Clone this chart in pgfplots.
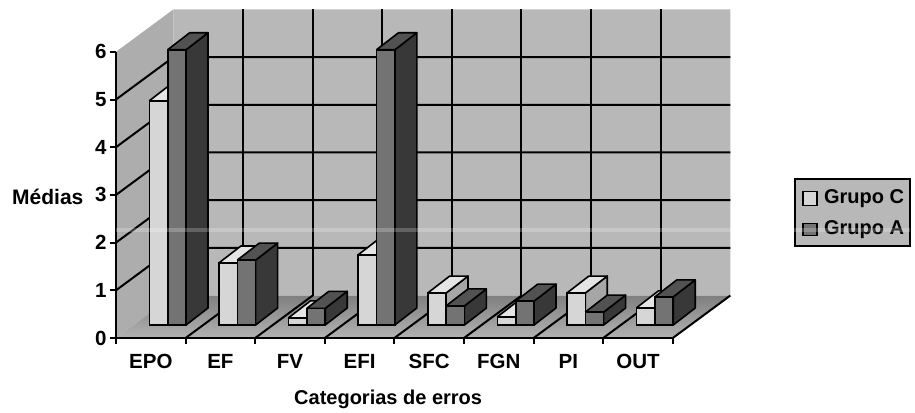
\documentclass[border=0pt]{standalone}
\usepackage{fontspec}
\setmainfont{Liberation Sans}
\usepackage{pgfplots}
\usepackage{pgfplotstable}
\pgfplotsset{compat=1.18}
\pgfplotstableread{
x C A
0.5 4.70 5.77
1.5 1.30 1.36
2.5 0.15 0.35
3.5 1.47 5.77
4.5 0.67 0.40
5.5 0.17 0.50
6.5 0.67 0.27
7.5 0.36 0.59
}\errdata
\definecolor{wallc}{gray}{0.72}
\definecolor{sidewall}{gray}{0.68}
\definecolor{floorfront}{gray}{0.70}
\definecolor{floorback}{gray}{0.50}
\definecolor{cfront}{gray}{0.84}
\definecolor{ctop}{gray}{0.90}
\definecolor{cside}{gray}{0.65}
\definecolor{afront}{gray}{0.45}
\definecolor{aside}{gray}{0.22}
\definecolor{atop}{gray}{0.32}
% depth faces of one bar: left edge, right edge, value, side colour, top colour
\newcommand{\barfaces}[5]{%
  \pgfmathsetmacro{\ya}{0.2725+#3}%
  \pgfmathsetmacro{\yb}{\ya+0.356}%
  \pgfmathsetmacro{\xr}{#2+0.316}%
  \pgfmathsetmacro{\xl}{#1+0.316}%
  \addplot[fill=#4,draw=black,line width=1.6pt,line join=round] coordinates {(#2,0.2725) (\xr,0.6285) (\xr,\yb) (#2,\ya) (#2,0.2725)};
  \addplot[fill=#5,draw=black,line width=1.6pt,line join=round] coordinates {(#1,\ya) (#2,\ya) (\xr,\yb) (\xl,\yb) (#1,\ya)};
}
\begin{document}
\begin{tikzpicture}
\begin{axis}[
  x=69.6pt, y=47.7pt,
  xmin=0, xmax=8.83, ymin=0, ymax=6.95,
  clip=false,
  axis x line*=bottom, axis y line*=left,
  axis line style={draw=none},
  xtick={0,1,...,8},
  x tick label as interval,
  xticklabels={EPO,EF,FV,EFI,SFC,FGN,PI,OUT},
  ytick={0,1,...,6},
  tick align=outside,
  major tick length=6pt,
  tick style={black,line width=2pt},
  /pgf/number format/assume math mode=true,
  tick label style={font=\fontsize{20.5}{22}\selectfont\bfseries},
  xticklabel style={yshift=-7pt},
  yticklabel style={xshift=0pt},
]
% walls and floor
\addplot[fill=wallc,draw=none] coordinates {(0.826,0.89) (8.826,0.89) (8.826,6.89) (0.826,6.89) (0.826,0.89)};
\addplot[fill=sidewall,draw=none] coordinates {(0,0) (0.826,0.89) (0.826,6.89) (0,6) (0,0)};
\addplot[top color=floorback,bottom color=floorfront,draw=none] coordinates {(0,0) (8,0) (8.826,0.89) (0.826,0.89) (0,0)};
% grid on the walls
\foreach \n in {1,...,5} {
  \edef\tmp{\noexpand\draw[black,line width=2pt] (axis cs:0,\n) -- (axis cs:0.826,\n.89) -- (axis cs:8.826,\n.89);}\tmp
}
\foreach \n in {1,...,8} {
  \edef\tmp{\noexpand\draw[black,line width=2pt] (axis cs:\n,0) -- (axis cs:\n.826,0.89);}\tmp
}
\foreach \n in {1,...,7} {
  \edef\tmp{\noexpand\draw[black,line width=2pt] (axis cs:\n.826,0.89) -- (axis cs:\n.826,6.89);}\tmp
}
\draw[black,line width=2.2pt] (axis cs:0,6) -- (axis cs:0,0) -- (axis cs:8,0);
% Grupo C
\barfaces{0.478}{0.742}{4.70}{cside}{ctop}
\barfaces{1.478}{1.742}{1.30}{cside}{ctop}
\barfaces{2.478}{2.742}{0.15}{cside}{ctop}
\barfaces{3.478}{3.742}{1.47}{cside}{ctop}
\barfaces{4.478}{4.742}{0.67}{cside}{ctop}
\barfaces{5.478}{5.742}{0.17}{cside}{ctop}
\barfaces{6.478}{6.742}{0.67}{cside}{ctop}
\barfaces{7.478}{7.742}{0.36}{cside}{ctop}
\addplot[ybar,bar width=0.264,bar shift=-0.132,xshift=16.9pt,yshift=13pt,fill=cfront,draw=black,line width=1.6pt] table[x=x,y=C] {\errdata};
% Grupo A
\barfaces{0.742}{1.006}{5.77}{aside}{atop}
\barfaces{1.742}{2.006}{1.36}{aside}{atop}
\barfaces{2.742}{3.006}{0.35}{aside}{atop}
\barfaces{3.742}{4.006}{5.77}{aside}{atop}
\barfaces{4.742}{5.006}{0.40}{aside}{atop}
\barfaces{5.742}{6.006}{0.50}{aside}{atop}
\barfaces{6.742}{7.006}{0.27}{aside}{atop}
\barfaces{7.742}{8.006}{0.59}{aside}{atop}
\addplot[ybar,bar width=0.264,bar shift=0.132,xshift=16.9pt,yshift=13pt,fill=afront,draw=black,line width=1.6pt] table[x=x,y=A] {\errdata};
% titles
\node[font=\fontsize{21}{22}\selectfont\bfseries,anchor=center] at (axis cs:-0.98,2.96) {Médias};
\node[font=\fontsize{20}{22}\selectfont\bfseries,anchor=center] at (axis cs:3.91,-1.29) {Categorias de erros};
% legend
\draw[black,line width=1.8pt,fill=wallc] (axis cs:9.755,3.335) rectangle (axis cs:11.41,1.93);
\draw[black,line width=1.8pt,fill=cfront] (axis cs:9.87,3.07) rectangle (axis cs:10.07,2.78);
\draw[black,line width=1.8pt,fill=afront] (axis cs:9.87,2.40) rectangle (axis cs:10.07,2.15);
\node[font=\fontsize{20}{22}\selectfont\bfseries,anchor=west,inner sep=0pt] at (axis cs:10.17,2.92) {Grupo C};
\node[font=\fontsize{20}{22}\selectfont\bfseries,anchor=west,inner sep=0pt] at (axis cs:10.17,2.27) {Grupo A};
% pale streak that crosses the scan
\draw[white,opacity=0.22,line width=4pt] (axis cs:0,2.27) -- (axis cs:11.41,2.27);
% page extent: 915 x 412
\path (axis cs:-1.6667,-1.5514) rectangle (axis cs:11.4799,7.0860);
\end{axis}
\end{tikzpicture}
\end{document}
